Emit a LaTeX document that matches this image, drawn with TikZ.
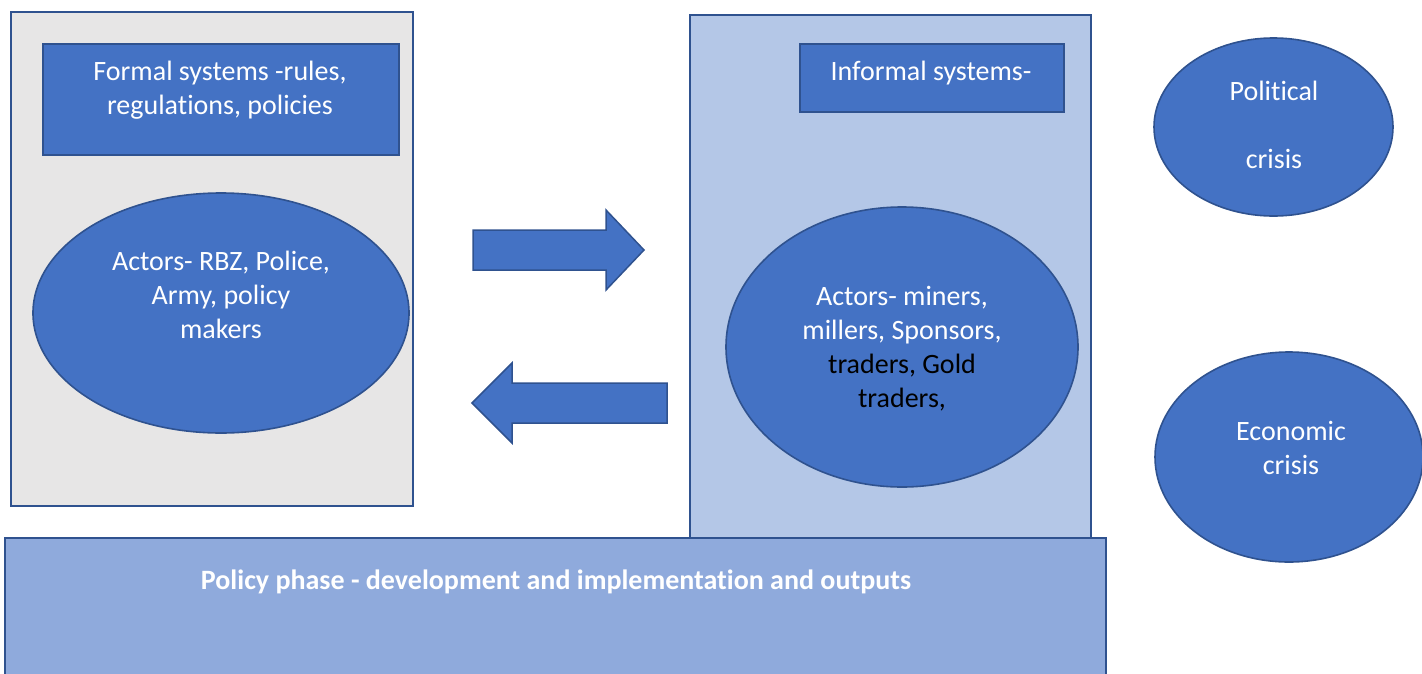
\documentclass[tikz,border=0pt]{standalone}
\usepackage{fontspec}
\setmainfont{Carlito}[Ligatures=NoCommon]
\usetikzlibrary{shapes.geometric}
\definecolor{boxblue}{HTML}{4472C4}
\definecolor{edgeblue}{HTML}{2F528F}
\definecolor{panelgray}{HTML}{E7E6E6}
\definecolor{panelblue}{HTML}{B4C7E7}
\definecolor{phaseblue}{HTML}{8FAADC}
\tikzset{
  panel/.style={draw=edgeblue, line width=2pt, anchor=north west, inner sep=0pt, outer sep=0pt},
  bluebox/.style={draw=edgeblue, fill=boxblue, line width=1.6pt, anchor=north west, inner sep=0pt},
  blueoval/.style={ellipse, draw=edgeblue, fill=boxblue, line width=1.6pt, inner sep=0pt},
  txt/.style={font=\fontsize{28}{34}\selectfont, align=center, text=white, inner sep=0pt},
  bigarrow/.style={draw=edgeblue, fill=boxblue, line width=1.5pt, line join=miter}
}
\begin{document}
\begin{tikzpicture}[x=1pt,y=-1pt]
\useasboundingbox (0,0) rectangle (1422,673);
\clip (0,0) rectangle (1422,673);

% formal side
\node[panel, fill=panelgray, minimum width=402pt, minimum height=494pt] (formal) at (11,12) {};
\node[bluebox, minimum width=356pt, minimum height=111pt] (formalhead) at (42,43) {};
\node[txt] (formaltext) at (220,90) {Formal systems -rules,\\regulations, policies};
\node[blueoval, minimum width=376pt, minimum height=240pt] (formalactors) at (221,313) {};
\node[txt] (formalactorstext) at (221,295) {Actors- RBZ, Police,\\Army, policy\\makers};

% informal side
\node[panel, fill=panelblue, minimum width=401pt, minimum height=525pt] (informal) at (690,15) {};
\node[bluebox, minimum width=264pt, minimum height=68pt] (informalhead) at (799,43) {};
\node[txt] (informaltext) at (931,73) {Informal systems-};
\node[blueoval, minimum width=352pt, minimum height=280pt] (informalactors) at (902,347) {};
\node[txt] (informalactorstext) at (902,349) {Actors- miners,\\millers, Sponsors,\\\textcolor{black}{traders, Gold}\\\textcolor{black}{traders,}};

% policy phase band
\node[panel, fill=phaseblue, minimum width=1101pt, minimum height=200pt] (phase) at (5,538) {};
\node[txt, font=\fontsize{28}{34}\selectfont\bfseries] (phasetext) at (556,582) {Policy phase - development and implementation and outputs};

% exchange arrows between the two systems
\draw[bigarrow] (473,230) -- (606,230) -- (606,210) -- (644,250) -- (606,290) -- (606,270) -- (473,270) -- cycle;
\draw[bigarrow] (667,383) -- (512,383) -- (512,363) -- (472,403) -- (512,443) -- (512,423) -- (667,423) -- cycle;

% crisis ovals
\node[blueoval, minimum width=239pt, minimum height=178pt] (political) at (1273.5,127) {};
\node[txt] (politicaltext) at (1274,125) {Political\\[34pt]crisis};
\node[blueoval, minimum width=268pt, minimum height=210pt] (economic) at (1289,457) {};
\node[txt] (economictext) at (1291,448) {Economic\\crisis};
\end{tikzpicture}
\end{document}
